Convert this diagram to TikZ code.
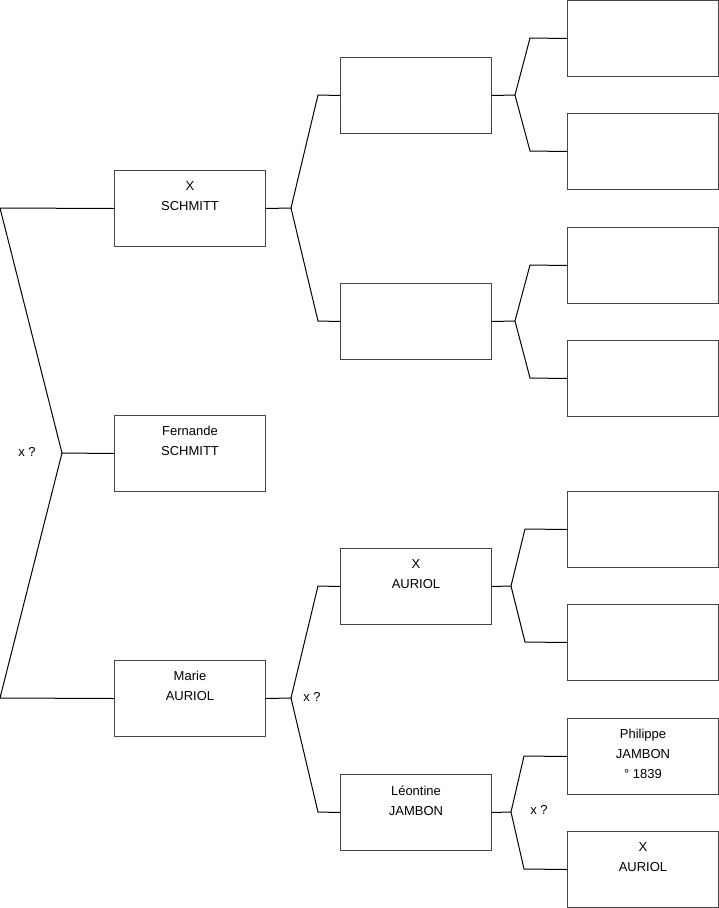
\documentclass[tikz,border=0pt]{standalone}
\usepackage{fontspec}
\setmainfont{Liberation Sans}
\usetikzlibrary{positioning}
\definecolor{boxline}{RGB}{70,70,70}
\tikzset{
  person/.style={draw=boxline,line width=1pt,minimum width=151pt,minimum height=76pt,inner sep=0pt,anchor=north west},
  who/.style={anchor=north,align=center,inner sep=0pt,yshift=-11.3pt,font=\fontsize{13}{20}\selectfont},
  link/.style={line width=1pt,line join=miter},
  guess/.style={inner sep=0pt,font=\fontsize{13}{14}\selectfont}
}

\begin{document}
\begin{tikzpicture}[x=1pt,y=-1pt]
    \useasboundingbox (0,0) rectangle (719,908);
    % generation 1
    \node[person,label={[who]north:{X\\SCHMITT}}] (xschmitt) at (114,170) {};
    \node[person,label={[who]north:{Fernande\\SCHMITT}}] (fernande) at (114,415) {};
    \node[person,label={[who]north:{Marie\\AURIOL}}] (marie) at (114,660) {};
    % generation 2
    \node[person] (aa) at (340,57) {};
    \node[person] (ab) at (340,283) {};
    \node[person,label={[who]north:{X\\AURIOL}}] (xauriol) at (340,548) {};
    \node[person,label={[who]north:{Léontine\\JAMBON}}] (leontine) at (340,774) {};
    % generation 3
    \node[person] (q1) at (567,0) {};
    \node[person] (q2) at (567,113) {};
    \node[person] (q3) at (567,227) {};
    \node[person] (q4) at (567,340) {};
    \node[person] (q5) at (567,491) {};
    \node[person] (q6) at (567,604) {};
    \node[person,label={[who]north:{Philippe\\JAMBON\\° 1839}}] (philippe) at (567,718) {};
    \node[person,label={[who]north:{X\\AURIOL}}] (xauriol2) at (567,831) {};

    % forks
    \coordinate (r0) at (62,453);
    \coordinate (r1) at (0,208);
    \coordinate (r2) at (0,698);
    \draw[link] (xschmitt.west) -- (r1) -- (r0) -- (r2) -- (marie.west);
    \draw[link] (r0) -- (fernande.west);
    \node[guess] (g0) at (27,452) {x ?};

    \coordinate (s0) at (291,208);
    \coordinate (s1) at (318,95);
    \coordinate (s2) at (318,321);
    \draw[link] (aa.west) -- (s1) -- (s0) -- (s2) -- (ab.west);
    \draw[link] (s0) -- (xschmitt.east);

    \coordinate (m0) at (291,698);
    \coordinate (m1) at (318,586);
    \coordinate (m2) at (318,812);
    \draw[link] (xauriol.west) -- (m1) -- (m0) -- (m2) -- (leontine.west);
    \draw[link] (m0) -- (marie.east);
    \node[guess] (g1) at (312,697) {x ?};

    \coordinate (a0) at (515,95);
    \coordinate (a1) at (530,38);
    \coordinate (a2) at (530,151);
    \draw[link] (q1.west) -- (a1) -- (a0) -- (a2) -- (q2.west);
    \draw[link] (a0) -- (aa.east);

    \coordinate (b0) at (515,321);
    \coordinate (b1) at (530,265);
    \coordinate (b2) at (530,378);
    \draw[link] (q3.west) -- (b1) -- (b0) -- (b2) -- (q4.west);
    \draw[link] (b0) -- (ab.east);

    \coordinate (x0) at (511,586);
    \coordinate (x1) at (525,529);
    \coordinate (x2) at (525,642);
    \draw[link] (q5.west) -- (x1) -- (x0) -- (x2) -- (q6.west);
    \draw[link] (x0) -- (xauriol.east);

    \coordinate (l0) at (511,812);
    \coordinate (l1) at (524,756);
    \coordinate (l2) at (524,869);
    \draw[link] (philippe.west) -- (l1) -- (l0) -- (l2) -- (xauriol2.west);
    \draw[link] (l0) -- (leontine.east);
    \node[guess] (g2) at (539,810) {x ?};
\end{tikzpicture}
\end{document}
